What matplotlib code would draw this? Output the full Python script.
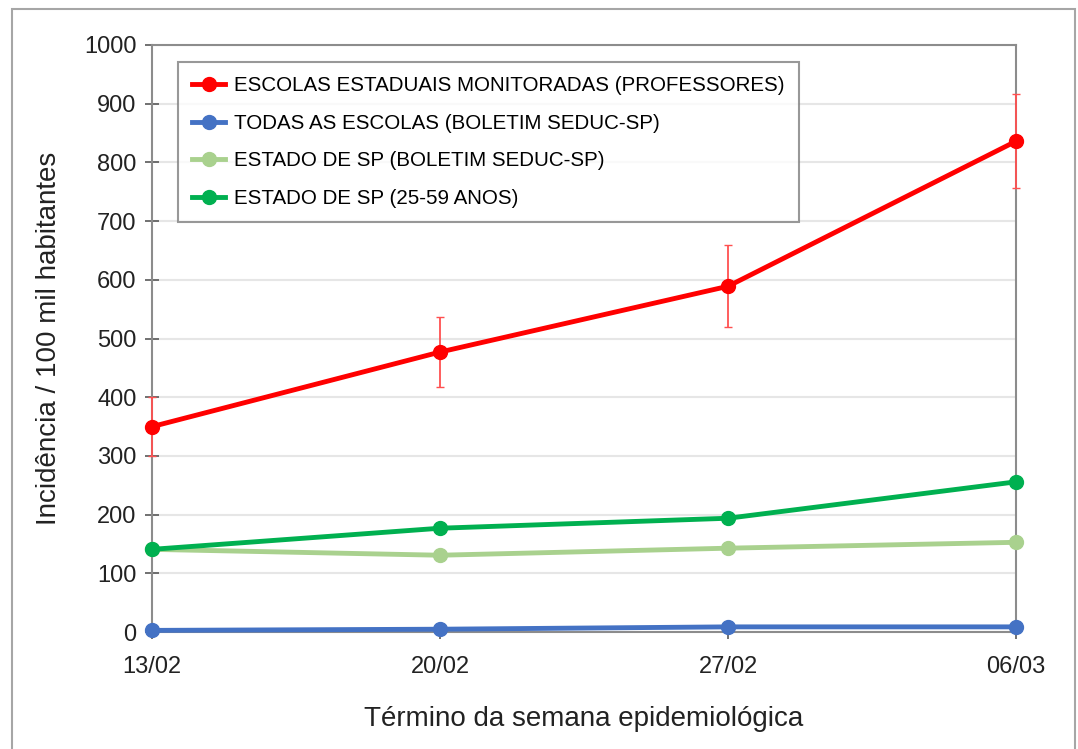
import matplotlib.pyplot as plt
from matplotlib.patches import Rectangle
from matplotlib.lines import Line2D

plt.rcParams['font.family'] = ['Liberation Sans', 'DejaVu Sans']

semanas = ["13/02", "20/02", "27/02", "06/03"]
professores = [350, 477, 589, 836]
professores_err = [50, 60, 70, 80]
todas_escolas = [3, 5, 9, 9]
estado_boletim = [141, 131, 143, 153]
estado_25_59 = [141, 177, 194, 256]

fig = plt.figure(figsize=(10.78, 7.49), dpi=100)
ax = fig.add_axes([0.141, 0.156, 0.8015, 0.784])

# moldura externa
fig.patches.append(Rectangle((12 / 1078, -0.05), (1075 - 12) / 1078, 1.05 - 9 / 749,
                             transform=fig.transFigure, fill=False,
                             edgecolor="#a6a6a6", linewidth=1.5))

x = range(len(semanas))
eb = ax.errorbar(x, professores, yerr=professores_err, color="#ff0000", marker="o",
                 markersize=10, linewidth=3.5, elinewidth=1.3, ecolor="#ff5050", capsize=3,
                 zorder=5)
for art in eb.lines[0:1] + eb.lines[1] + eb.lines[2]:
    art.set_clip_on(False)
l2, = ax.plot(x, todas_escolas, color="#4472c4", marker="o", markersize=10, linewidth=3.5,
              zorder=4, clip_on=False)
l3, = ax.plot(x, estado_boletim, color="#a9d18e", marker="o", markersize=10, linewidth=3.5,
              zorder=3, clip_on=False)
l4, = ax.plot(x, estado_25_59, color="#00b050", marker="o", markersize=10, linewidth=3.5,
              zorder=4, clip_on=False)

ax.set_xlim(0, 3)
ax.set_ylim(0, 1000)
ax.set_yticks(range(0, 1001, 100))
ax.set_xticks(list(x))
ax.set_xticklabels(semanas)
for s in ax.spines.values():
    s.set_color("#8c8c8c")
    s.set_linewidth(1.5)
    s.set_zorder(1)
ax.grid(axis="y", color="#e6e6e6", linewidth=1.5)
ax.set_axisbelow(True)
ax.tick_params(axis="both", direction="inout", length=10, width=1.2, color="#595959",
               labelsize=17, labelcolor="#222222")
ax.tick_params(axis="x", pad=12)
ax.tick_params(axis="y", pad=6)
ax.set_ylabel("Incidência / 100 mil habitantes", fontsize=20, color="#222222", labelpad=16)
ax.set_xlabel("Término da semana epidemiológica", fontsize=20, color="#222222", labelpad=20)

handles = [
    Line2D([], [], color="#ff0000", marker="o", markersize=10, linewidth=3.5),
    l2, l3, l4,
]
labels = [
    "ESCOLAS ESTADUAIS MONITORADAS (PROFESSORES)",
    "TODAS AS ESCOLAS (BOLETIM SEDUC-SP)",
    "ESTADO DE SP (BOLETIM SEDUC-SP)",
    "ESTADO DE SP (25-59 ANOS)",
]
leg = ax.legend(handles, labels, loc="upper left", bbox_to_anchor=(0.03, 0.971),
                borderaxespad=0, fontsize=14.8, frameon=True, fancybox=False,
                edgecolor="#7f7f7f", handlelength=1.6, labelspacing=0.9,
                borderpad=0.7, handletextpad=0.45)
leg.get_frame().set_linewidth(1.5)

fig.savefig("out.png", dpi=100)
